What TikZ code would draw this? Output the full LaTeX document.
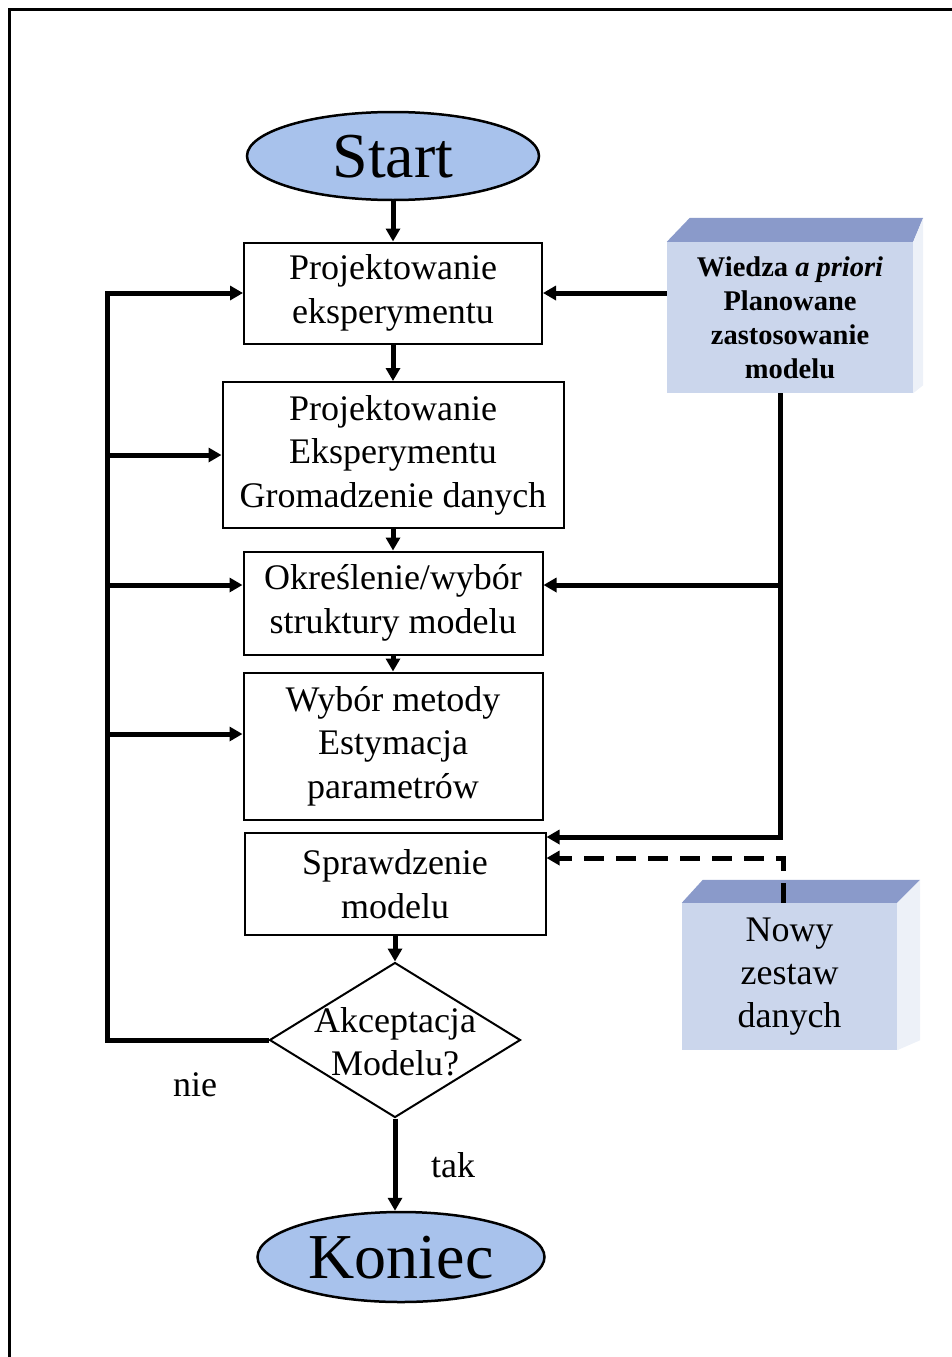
\documentclass[tikz,border=0pt]{standalone}
\usepackage{fontspec}
\setmainfont{Liberation Serif}
\usetikzlibrary{shapes.geometric,arrows.meta,calc}
\definecolor{termblue}{HTML}{A8C2EC}
\definecolor{facefront}{HTML}{CBD6EC}
\definecolor{facetop}{HTML}{8A9ACA}
\definecolor{faceside}{HTML}{EDF1F8}
\begin{document}
\begin{tikzpicture}[x=1pt,y=-1pt,
  procbox/.style={draw,line width=2pt,fill=white,align=center,inner sep=0pt,
    font=\fontsize{36}{43.5}\selectfont},
  terminal/.style={ellipse,draw,line width=2.5pt,fill=termblue,inner sep=0pt,
    font=\fontsize{64}{70}\selectfont,text height=43pt,text depth=0pt},
  decision/.style={diamond,draw,line width=2pt,fill=white,inner sep=0pt},
  frontface/.style={fill=facefront,inner sep=0pt,align=center},
  topface/.style={fill=facetop},
  sideface/.style={fill=faceside},
  lbl/.style={inner sep=0pt,font=\fontsize{36}{43.5}\selectfont},
  link/.style={line width=5pt,-{Triangle[length=13pt,width=14pt]}},
  plain/.style={line width=5pt},
]
\useasboundingbox (0,0) rectangle (952,1357);
% page frame (top and left edges)
\draw[line width=3pt] (9,1357) -- (9,9) -- (952,9);

% main flow
\node[terminal,minimum width=292pt,minimum height=88pt] (start) at (393,156) {Start};
\node[procbox,minimum width=298pt,minimum height=101pt] (b1) at (393,293) {Projektowanie\\eksperymentu};
\node[procbox,minimum width=341pt,minimum height=146pt] (b2) at (393,455) {Projektowanie\\Eksperymentu\\Gromadzenie danych};
\node[procbox,minimum width=299pt,minimum height=103pt] (b3) at (393,603) {Określenie/wybór\\struktury modelu};
\node[procbox,minimum width=299pt,minimum height=147pt] (b4) at (393,746) {Wybór metody\\Estymacja\\parametrów};
\node[procbox,minimum width=301pt,minimum height=102pt] (b5) at (395,884) {Sprawdzenie\\modelu};
\node[decision,minimum width=251pt,minimum height=155pt] (dia) at (395,1040) {};
\node[lbl,align=center] (diatext) at (395,1042) {Akceptacja\\Modelu?};
\node[terminal,minimum width=287pt,minimum height=90pt] (koniec) at (401,1257) {Koniec};

% side blocks drawn as boxes in perspective
\node[frontface,minimum width=246pt,minimum height=151pt,
  font=\fontsize{28.5}{34}\selectfont\bfseries] (wiedza) at (790,317.5)
  {Wiedza \textit{a priori}\\Planowane\\zastosowanie\\modelu};
\fill[topface] (wiedza.north west) -- ($(wiedza.north west)+(23,-24)$)
  -- ($(wiedza.north east)+(10,-24)$) -- (wiedza.north east) -- cycle;
\fill[sideface] (wiedza.north east) -- ($(wiedza.north east)+(10,-24)$)
  -- ($(wiedza.south east)+(10,-8)$) -- (wiedza.south east) -- cycle;

\node[frontface,minimum width=215pt,minimum height=147pt,
  font=\fontsize{36}{43}\selectfont] (nowy) at (789.5,976.5)
  {Nowy\\zestaw\\danych};
\fill[topface] (nowy.north west) -- ($(nowy.north west)+(21,-23)$)
  -- ($(nowy.north east)+(23,-23)$) -- (nowy.north east) -- cycle;
\fill[sideface] (nowy.north east) -- ($(nowy.north east)+(23,-23)$)
  -- ($(nowy.south east)+(23,-10)$) -- (nowy.south east) -- cycle;

% helper coordinates for the feedback lines
\coordinate (lx) at (107,0);
\coordinate (rx) at (780,0);
\coordinate (dx) at (783,0);
\coordinate (r3) at (0,585);
\coordinate (r4) at (0,734);
\coordinate (r5) at (0,837);
\coordinate (r6) at (0,858);

% downward flow
\draw[link] (start) -- (b1);
\draw[link] (b1) -- (b2);
\draw[link] (b2) -- (b3);
\draw[link] (b3) -- (b4);
\draw[link] (b5) -- (dia);
\draw[link] (dia.south) -- (dia.south |- koniec.north);

% "nie" loop back on the left
\draw[link] (dia.west) -- (lx |- dia.west) -- (lx |- b1.west) -- (b1.west);
\draw[link] (lx |- b2.west) -- (b2.west);
\draw[link] (lx |- r3) -- (b3.west |- r3);
\draw[link] (lx |- r4) -- (b4.west |- r4);

% inputs on the right
\draw[link] (wiedza.west |- b1.east) -- (b1.east);
\draw[link] (rx |- wiedza.south) -- (rx |- r5) -- (b5.east |- r5);
\draw[link] (rx |- r3) -- (b3.east |- r3);
\draw[link,dash pattern=on 20pt off 12pt] (dx |- nowy.north) -- (dx |- r6) -- (b5.east |- r6);

% branch labels
\node[lbl] (nie) at (195,1085) {nie};
\node[lbl] (tak) at (453,1165) {tak};
\end{tikzpicture}
\end{document}
